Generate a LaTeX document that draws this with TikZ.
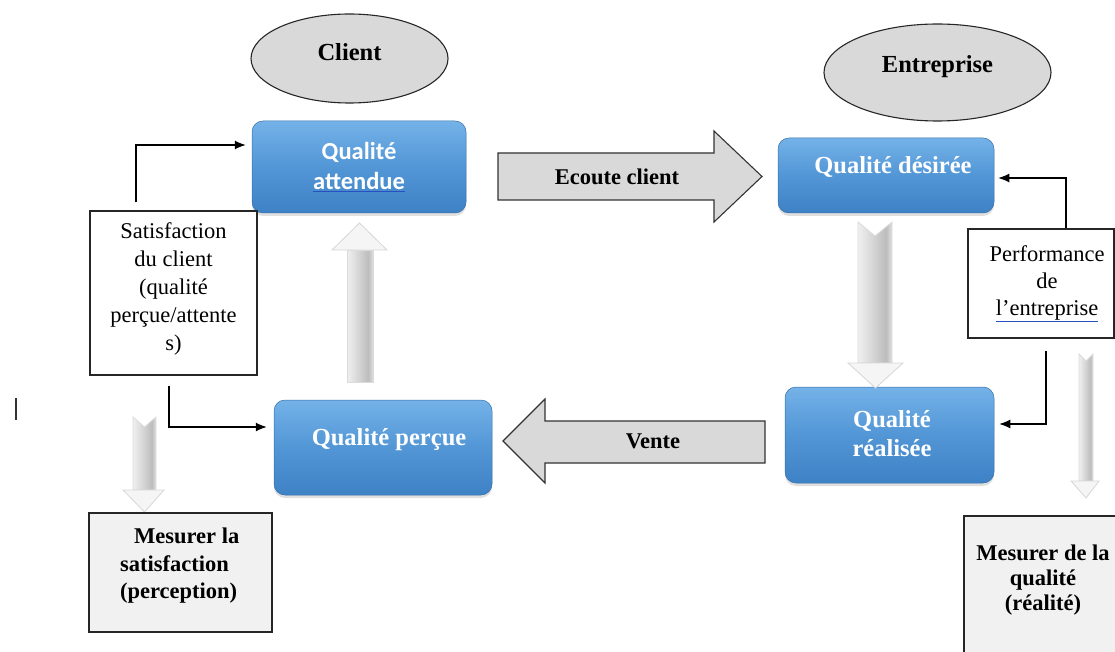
\documentclass[tikz,border=0pt]{standalone}
\usepackage{fontspec}
\setmainfont{Liberation Serif}
\newfontfamily\calibrifont{Carlito}
\usetikzlibrary{arrows.meta,shapes.geometric,shadows}

\definecolor{ellgray}{RGB}{217,217,217}
\definecolor{boxgray}{RGB}{241,241,241}
\definecolor{bluetop}{RGB}{116,178,232}
\definecolor{bluemid}{RGB}{82,150,214}
\definecolor{bluebot}{RGB}{62,130,198}
\definecolor{linkblue}{RGB}{40,80,190}

% grey shading for the thick process arrows (varies left to right)
\pgfdeclarehorizontalshading{barshade}{100bp}{color(0bp)=(black!6); color(25bp)=(black!6);
  color(38bp)=(black!12); color(50bp)=(black!18); color(66bp)=(black!26);
  color(75bp)=(black!12); color(100bp)=(black!12)}

\begin{document}
\begin{tikzpicture}[x=1pt,y=-1pt,
  ell/.style={ellipse, draw=black!85, line width=1.1pt, fill=ellgray, inner sep=0pt},
  etxt/.style={font=\fontsize{24.5}{29}\selectfont\bfseries, inner sep=0pt},
  bluebox/.style={rounded corners=11pt, top color=bluetop, bottom color=bluebot,
    middle color=bluemid, draw=bluebot!85!black, line width=0.5pt, inner sep=0pt,
    drop shadow={opacity=0.25, shadow xshift=0pt, shadow yshift=-3pt}},
  btxt/.style={text=white, font=\fontsize{24.5}{29}\selectfont\bfseries, align=center, inner sep=0pt},
  lbl/.style={font=\fontsize{22.5}{28}\selectfont, align=center, inner sep=0pt},
  blbl/.style={font=\fontsize{22.5}{28}\selectfont\bfseries, align=center, inner sep=0pt},
  wbox/.style={draw=black!85, line width=1.1pt, fill=white, inner sep=0pt},
  gbox/.style={draw=black!85, line width=1.1pt, fill=boxgray, inner sep=0pt},
  blockarrow/.style={draw=black!80, line width=1.1pt, fill=ellgray},
  bar/.style={shading=barshade, draw=black!14, line width=0.8pt},
  barhead/.style={fill=black!4, draw=black!16, line width=0.8pt},
  fb/.style={draw=black, line width=1.2pt, -{Latex[length=11pt,width=9pt]}}
]
\useasboundingbox (0,0) rectangle (1115,652);

% --- actors ---
\node[ell, minimum width=197pt, minimum height=89pt] (client) at (349.5,58.5) {};
\node[etxt] (clientlbl) at ([yshift=6pt]client.center) {Client};
\node[ell, minimum width=227pt, minimum height=97pt] (entr) at (937.5,72.5) {};
\node[etxt] (entrlbl) at ([yshift=6pt]entr.center) {Entreprise};

% --- the four quality boxes ---
\node[bluebox, minimum width=214pt, minimum height=92pt] (att) at (359,167) {};
\node[btxt, font=\calibrifont\bfseries\fontsize{24.5}{30}\selectfont] (attlbl) at (att.center)
  {Qualité\\{\color{linkblue}\underline{\color{white}attendue}}};

\node[bluebox, minimum width=216pt, minimum height=75pt] (des) at (886,175.5) {};
\node[btxt] (deslbl) at ([xshift=7pt,yshift=8.5pt]des.center) {Qualité désirée};

\node[bluebox, minimum width=209pt, minimum height=96pt] (rea) at (889.5,435) {};
\node[btxt] (realbl) at ([xshift=2.5pt,yshift=1.5pt]rea.center) {Qualité\\réalisée};

\node[bluebox, minimum width=218pt, minimum height=95pt] (per) at (383,447.5) {};
\node[btxt] (perlbl) at ([xshift=6pt,yshift=7.5pt]per.center) {Qualité perçue};

% --- big grey arrows between the boxes ---
\draw[blockarrow] (498,153) -- (714,153) -- (714,131) -- (762,176.5) -- (714,222)
  -- (714,200) -- (498,200) -- cycle;
\node[blbl] (ecoute) at (617,177) {Ecoute client};

\draw[blockarrow] (765,421) -- (545,421) -- (545,399) -- (503,441) -- (545,483)
  -- (545,463) -- (765,463) -- cycle;
\node[blbl] (vente) at (653,441) {Vente};

% --- shaded process arrows: shaft, then a pale head ---
\shade[bar] (347,382) -- (347,250) -- (373,250) -- (373,382) -- cycle;
\draw[barhead] (332,250) -- (359.5,223) -- (387,250) -- cycle;

\shade[bar] (858,222) -- (875,236) -- (892,222) -- (892,363) -- (858,363) -- cycle;
\draw[barhead] (848,363) -- (903,363) -- (875.5,388) -- cycle;

\shade[bar] (133,417) -- (144.5,427) -- (156,417) -- (156,490) -- (133,490) -- cycle;
\draw[barhead] (123,490) -- (164,490) -- (144.5,512) -- cycle;

\shade[bar] (1079,354) -- (1086,361) -- (1093,354) -- (1093,481) -- (1079,481) -- cycle;
\draw[barhead] (1071,481) -- (1099,481) -- (1086,498) -- cycle;

% --- side notes ---
\node[wbox, minimum width=167pt, minimum height=164pt] (sat) at (173.5,293) {};
\node[lbl] (satlbl) at ([yshift=4pt]sat.center)
  {Satisfaction\\du client\\(qualité\\perçue/attente\\s)};

\node[wbox, minimum width=146pt, minimum height=109pt] (perf) at (1041,283.5) {};
\node[lbl, font=\fontsize{22.5}{27}\selectfont] (perflbl) at ([xshift=6pt]perf.center)
  {Performance\\de\\{\color{linkblue}\underline{\color{black}l'entreprise}}};

\node[gbox, minimum width=183pt, minimum height=119pt] (msat) at (180.5,572.5) {};
\node[blbl, align=left, anchor=west, font=\fontsize{22.5}{27.5}\selectfont\bfseries] (msatlbl)
  at ([xshift=31.5pt,yshift=6.5pt]msat.west) {\hspace*{14pt}Mesurer la\\satisfaction\\(perception)};

\node[gbox, minimum width=170pt, minimum height=150pt] (mqual) at (1049,591) {};
\node[blbl, font=\fontsize{22.5}{25}\selectfont\bfseries] (mquallbl) at (1043,580)
  {Mesurer de la\\qualité\\(réalité)};

% --- feedback connectors ---
\draw[fb] ([xshift=-37.5pt,yshift=8pt]sat.north) |- ([xshift=-6pt,yshift=22pt]att.west);
\draw[fb] ([xshift=-4.5pt,yshift=-10pt]sat.south) |- ([xshift=-7pt,yshift=20.5pt]per.west);
\draw[fb] ([xshift=25pt]perf.north) |- ([xshift=4pt,yshift=-2.5pt]des.east);
\draw[fb] ([xshift=5pt,yshift=-12pt]perf.south) |- ([xshift=5pt,yshift=11pt]rea.east);

% stray mark at the left margin
\draw[line width=1.3pt, black!80] (16,398) -- (16,420);
\end{tikzpicture}
\end{document}
